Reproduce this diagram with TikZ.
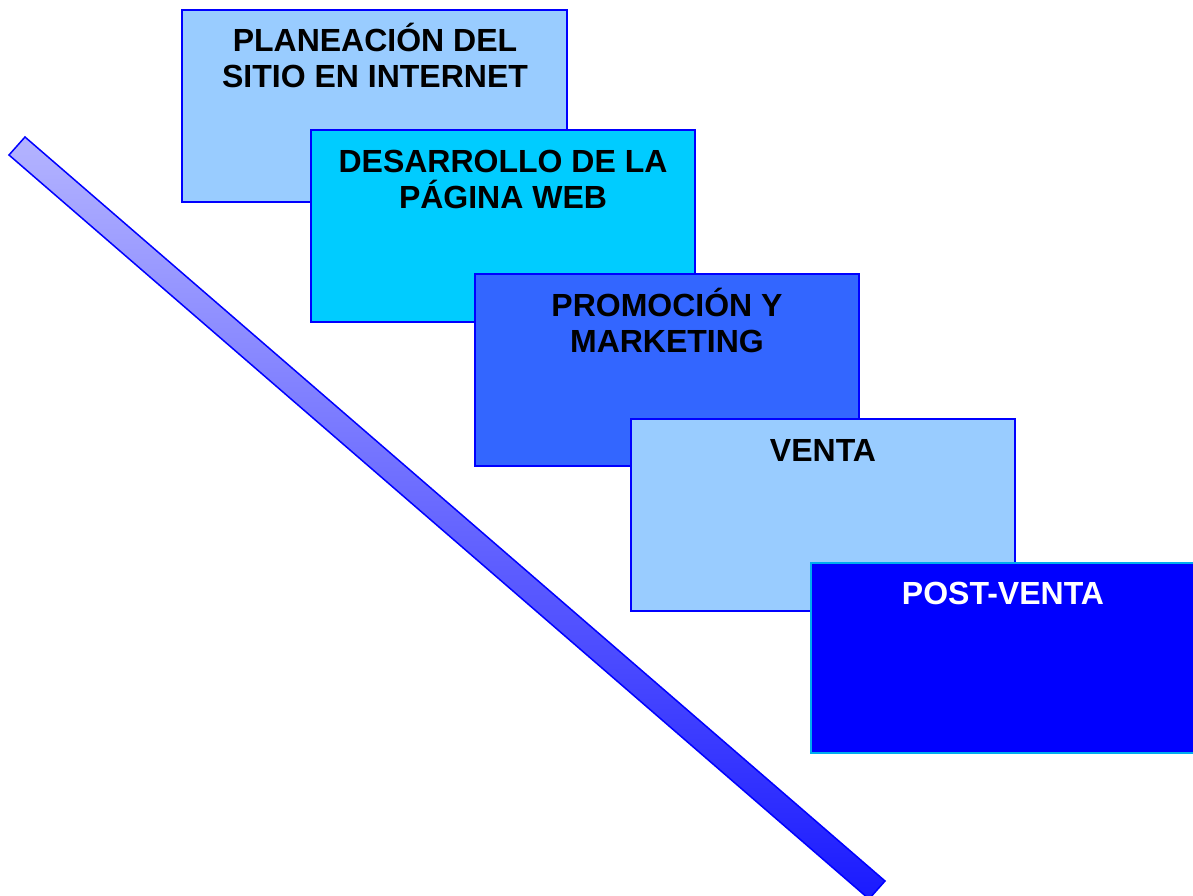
\documentclass[tikz,border=0pt]{standalone}
\usepackage{fontspec}
\setmainfont{Liberation Sans}
\begin{document}
\begin{tikzpicture}[x=1pt,y=-1pt,
  stagebox/.style={draw=blue,line width=1.5pt},
  stagetext/.style={anchor=base,inner sep=0pt,font=\bfseries\fontsize{32}{36}\selectfont}]
\useasboundingbox (0,0) rectangle (1193,896);
\definecolor{lightblue}{HTML}{99CCFF}
\definecolor{skyc}{HTML}{00CCFF}
\definecolor{midblue}{HTML}{3366FF}
\definecolor{barlight}{HTML}{B4B4FF}
\definecolor{bardark}{HTML}{1A1AFF}
% diagonal bar
\shade[top color=barlight,bottom color=bardark,draw=blue,line width=1.5pt]
  (25,137) -- (9,155) -- (869,899) -- (885,881) -- cycle;
% boxes
\filldraw[stagebox,fill=lightblue] (182,10) rectangle (567,202);
\filldraw[stagebox,fill=skyc] (311,130) rectangle (695,322);
\filldraw[stagebox,fill=midblue] (475,274) rectangle (859,466);
\filldraw[stagebox,fill=lightblue] (631,419) rectangle (1015,611);
\filldraw[stagebox,fill=blue,draw=cyan] (811,563) rectangle (1197,753);
% texts
\node[stagetext] (t1a) at (375,52) {PLANEACIÓN DEL};
\node[stagetext] (t1b) at (375,88) {SITIO EN INTERNET};
\node[stagetext] (t2a) at (503,172) {DESARROLLO DE LA};
\node[stagetext] (t2b) at (503,208) {PÁGINA WEB};
\node[stagetext] (t3a) at (667,316) {PROMOCIÓN Y};
\node[stagetext] (t3b) at (667,352) {MARKETING};
\node[stagetext] (t4) at (823,461) {VENTA};
\node[stagetext,text=white] (t5) at (1003,604) {POST-VENTA};
\end{tikzpicture}
\end{document}
